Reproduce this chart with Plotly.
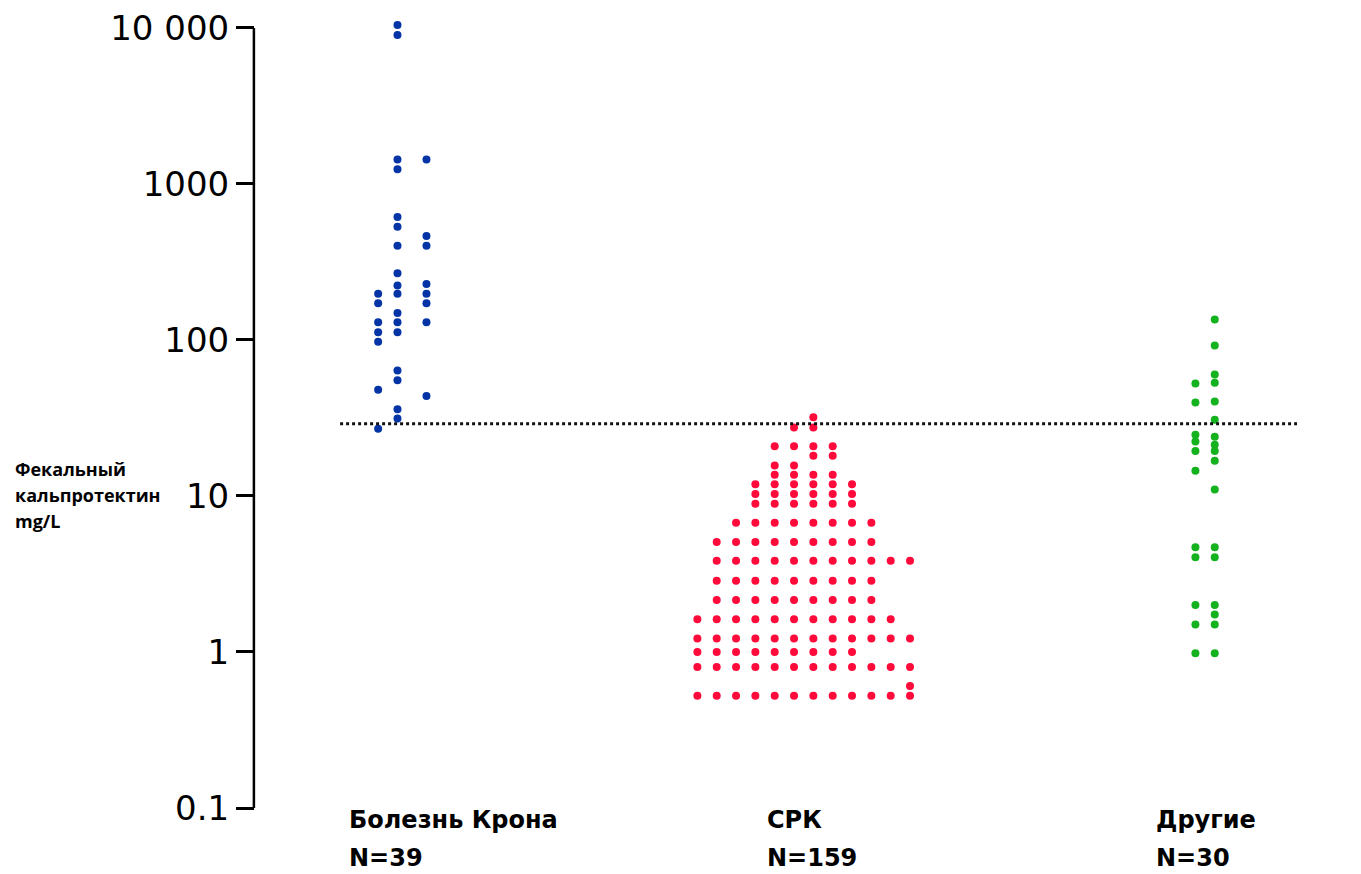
import plotly.graph_objects as go

# ---------------- data ----------------
categories = ["Болезнь Крона", "СРК", "Другие"]
n_labels = ["N=39", "N=159", "N=30"]

# Crohn's disease, three dot columns
crohn_col1 = [198, 172, 130, 112, 97.5, 48, 27]
crohn_col2 = [10450, 9020, 1436, 1241, 614, 532, 401, 268, 223, 198, 149, 130, 112,
              63.7, 55.1, 36, 31.4]
crohn_col3 = [1436, 464, 401, 228, 198, 172, 130, 43.8]

# IBS, twelve dot columns (left to right)
ibs_col0 = [1.62, 1.22, 1.0, 0.80, 0.525]
ibs_col1 = [5.07, 3.84, 2.86, 2.15, 1.62, 1.22, 1.0, 0.80, 0.525]
ibs_col2 = [6.73, 5.07, 3.84, 2.86, 2.15, 1.62, 1.22, 1.0, 0.80, 0.525]
ibs_col3 = [11.9, 10.3, 8.93, 6.73, 5.07, 3.84, 2.86, 2.15, 1.62, 1.22, 1.0, 0.80, 0.525]
ibs_col4 = [20.8, 15.7, 13.7, 11.9, 10.3, 8.93, 6.73, 5.07, 3.84, 2.86, 2.15, 1.62,
            1.22, 1.0, 0.80, 0.525]
ibs_col5 = [27.5, 20.8, 15.7, 13.7, 11.9, 10.3, 8.93, 6.73, 5.07, 3.84, 2.86, 2.15,
            1.62, 1.22, 1.0, 0.80, 0.525]
ibs_col6 = [31.9, 27.5, 20.8, 18.1, 13.7, 11.9, 10.3, 8.93, 6.73, 5.07, 3.84, 2.86,
            2.15, 1.62, 1.22, 1.0, 0.80, 0.525]
ibs_col7 = [20.8, 18.1, 13.7, 11.9, 10.3, 8.93, 6.73, 5.07, 3.84, 2.86, 2.15, 1.62,
            1.22, 1.0, 0.80, 0.525]
ibs_col8 = [11.9, 10.3, 8.93, 6.73, 5.07, 3.84, 2.86, 2.15, 1.62, 1.22, 1.0, 0.80, 0.525]
ibs_col9 = [6.73, 5.07, 3.84, 2.86, 2.15, 1.62, 1.22, 0.80, 0.525]
ibs_col10 = [3.84, 1.62, 1.22, 0.80, 0.525]
ibs_col11 = [3.84, 1.22, 0.80, 0.605, 0.525]

# Others, two dot columns
other_col1 = [52.5, 39.7, 24.7, 22.3, 19.4, 14.5, 4.69, 4.05, 2.0, 1.50, 0.98]
other_col2 = [135, 92, 60.1, 53.2, 40.3, 30.8, 24.0, 21.3, 19.4, 16.8, 11.0, 4.69,
              4.05, 2.0, 1.74, 1.50, 0.98]

threshold = 29  # mg/L, dotted cut-off line

tick_vals = [0.1, 1, 10, 100, 1000, 10000]
tick_text = ["0.1", "1", "10", "100", "1000", "10 000"]
y_title_lines = ["Фекальный", "кальпротектин", "mg/L"]

# ---------------- styling / layout ----------------
COL_STEP = 0.04816  # spacing between dot columns in category units
colors = ["#0534a6", "#ff0a3a", "#14b21e"]

groups = [
    (0, [(-1.25, crohn_col1), (-0.25, crohn_col2), (1.25, crohn_col3)]),
    (1, [(i - 5.5, c) for i, c in enumerate([ibs_col0, ibs_col1, ibs_col2, ibs_col3,
                                              ibs_col4, ibs_col5, ibs_col6, ibs_col7,
                                              ibs_col8, ibs_col9, ibs_col10, ibs_col11])]),
    (2, [(-0.5, other_col1), (0.5, other_col2)]),
]

fig = go.Figure()
for (center, cols), color, name in zip(groups, colors, categories):
    xs, ys = [], []
    for off, vals in cols:
        for v in vals:
            xs.append(center + off * COL_STEP)
            ys.append(v)
    fig.add_trace(go.Scatter(x=xs, y=ys, mode="markers", name=name,
                             marker=dict(size=8, color=color, line=dict(width=0)),
                             cliponaxis=False, showlegend=False))

# dotted cut-off line
fig.add_shape(type="line", xref="x", yref="y", x0=-0.155, x1=2.229,
              y0=threshold, y1=threshold,
              line=dict(color="#111111", width=3, dash="dot"))

# y axis line, from the lowest to the highest tick
fig.add_shape(type="line", xref="paper", yref="y", x0=-0.001, x1=-0.001,
              y0=tick_vals[0], y1=tick_vals[-1],
              line=dict(color="black", width=2.5))

PLOT_BOTTOM = 808.0
PLOT_H = 800.0
PLOT_LEFT = 255.0
PLOT_W = 1098.0


def py(p):
    return (PLOT_BOTTOM - p) / PLOT_H


def px(p):
    return (p - PLOT_LEFT) / PLOT_W


label_font = dict(family="DejaVu Sans", size=24, color="black")
label_offsets = [-0.138, -0.097, -0.128]
for i, (cat, nl) in enumerate(zip(categories, n_labels)):
    fig.add_annotation(x=i + label_offsets[i], y=py(820), xref="x", yref="paper",
                       text="<b>%s</b>" % cat, showarrow=False, xanchor="left",
                       yanchor="middle", font=label_font)
    fig.add_annotation(x=i + label_offsets[i], y=py(858), xref="x", yref="paper",
                       text="<b>%s</b>" % nl, showarrow=False, xanchor="left",
                       yanchor="middle", font=label_font)

for j, line in enumerate(y_title_lines):
    fig.add_annotation(x=px(13), y=py(467 + 26.5 * j), xref="paper",
                       yref="paper", text="<b>%s</b>" % line, showarrow=False,
                       xanchor="left", yanchor="middle",
                       font=dict(family="Open Sans", size=18, color="black"))

fig.update_layout(
    width=1345, height=866,
    margin=dict(l=247, r=0, t=0, b=66),
    paper_bgcolor="white", plot_bgcolor="white",
    xaxis=dict(visible=False, range=[-0.367, 2.3685]),
    yaxis=dict(type="log", range=[-1, 4.102], tickvals=tick_vals, ticktext=tick_text,
               showline=False, ticklabeloverflow="allow",
               ticks="outside", ticklen=18, tickwidth=2.5, tickcolor="black",
               showgrid=False, zeroline=False,
               tickfont=dict(family="DejaVu Sans", size=34, color="black")),
)

fig.write_html("out.html")
